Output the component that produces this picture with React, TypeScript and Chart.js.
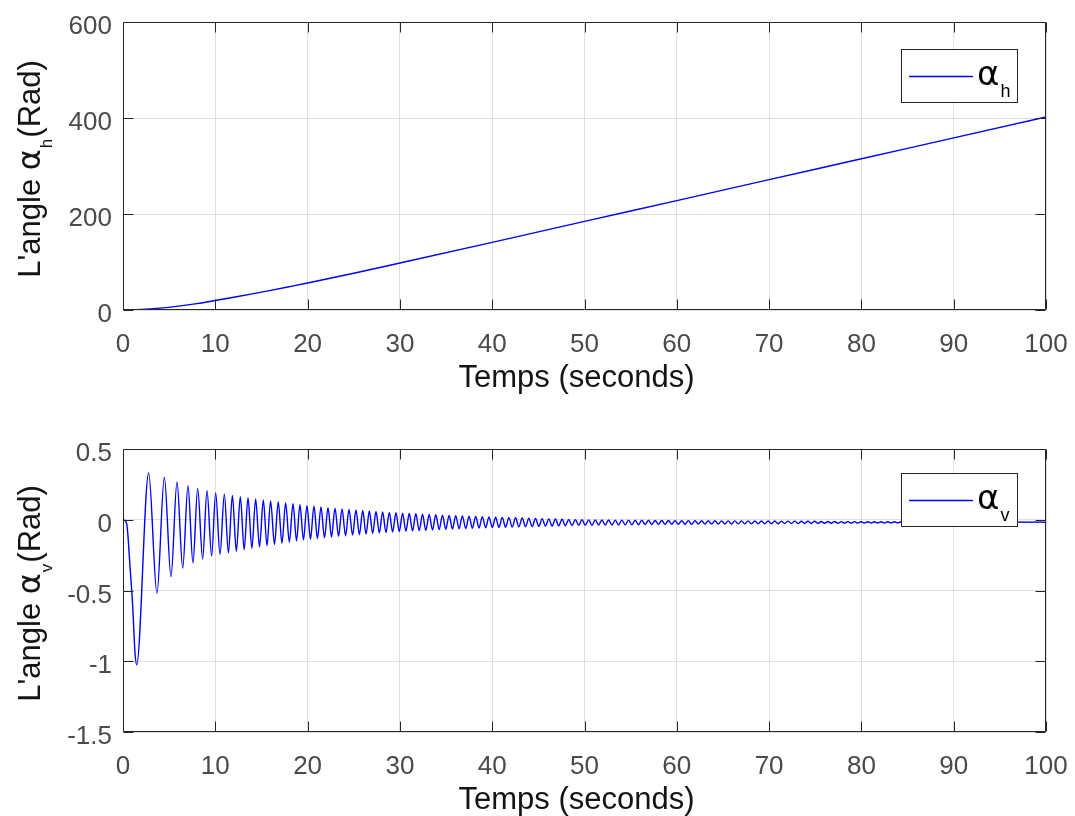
import React, { useEffect, useRef } from "react";
import { Chart, registerables } from "chart.js";

Chart.register(...registerables);

// ---------------- data ----------------
const X_TICKS = [0, 10, 20, 30, 40, 50, 60, 70, 80, 90, 100];
const Y_TICKS_TOP = [0, 200, 400, 600];
const Y_TICKS_BOTTOM = [-1.5, -1, -0.5, 0, 0.5];
const X_TITLE = "Temps (seconds)";
const Y_TITLE_START = "L'angle ";
const GREEK = "\u03b1";
const Y_TITLE_END = "(Rad)";
const SUB_TOP = "h";
const SUB_BOTTOM = "v";

// alpha_h (top)
const H_TIME = [0, 2, 4, 6, 8, 10, 12, 14, 16, 18, 20, 25, 30, 40, 50, 60, 70, 80, 90, 100];
const H_ANGLE = [0, 1.0, 3.8, 8.0, 13.3, 19.8, 26.6, 33.7, 41.0, 48.5, 56.2, 76.5, 97.8, 141, 184.5, 228, 271.5, 315, 358.5, 402];

// alpha_v (bottom): start, peaks, troughs, end
const V_START_T = [0, 0.2, 0.45, 0.76, 1.05, 1.3];
const V_START_V = [0, -0.005, -0.05, -0.33, -0.61, -0.94];

const V_PEAK_T = [
  2.78, 4.48, 5.85, 7.04, 8.09, 9.10, 10.04,
  10.98, 11.85, 12.71, 13.54, 14.37, 15.20, 15.99, 16.82, 17.62, 18.42, 19.17, 19.93,
  20.69, 21.45, 22.21, 22.97, 23.73, 24.49, 25.24, 25.97, 26.69, 27.41, 28.13, 28.85, 29.57,
  30.29, 31.01, 31.73, 32.45, 33.17, 33.89, 34.61, 35.33, 36.05, 36.77, 37.49, 38.21, 38.93, 39.65,
  40.37, 41.09, 41.81, 42.53, 43.25, 43.97, 44.69, 45.41, 46.13, 46.85, 47.57, 48.29, 49.01, 49.73,
  50.45, 51.17, 51.89, 52.61, 53.33, 54.05, 54.77, 55.49, 56.21, 56.93, 57.65, 58.37, 59.09, 59.81,
  60.53, 61.25, 61.97, 62.69, 63.41, 64.13, 64.85, 65.57, 66.29, 67.01, 67.73, 68.45, 69.17, 69.89,
  70.61, 71.33, 72.05, 72.77, 73.49, 74.21, 74.93, 75.65, 76.37, 77.09, 77.81, 78.53, 79.25, 79.97,
  80.69, 81.41, 82.13, 82.85, 83.57, 84.29, 85.01, 85.73, 86.45, 87.17, 87.89, 88.61, 89.33, 90.05,
  90.77, 91.49, 92.21, 92.93, 93.65, 94.37, 95.09, 95.81, 96.53, 97.25, 97.97, 98.69, 99.41,
];
const V_PEAK_V = [
  0.33, 0.30, 0.268, 0.24, 0.222, 0.206, 0.19,
  0.181, 0.172, 0.163, 0.155, 0.147, 0.140, 0.133, 0.126, 0.119, 0.113, 0.106, 0.100,
  0.095, 0.090, 0.085, 0.081, 0.077, 0.073, 0.069, 0.065, 0.062, 0.058, 0.055, 0.052, 0.049,
  0.046, 0.044, 0.042, 0.039, 0.037, 0.035, 0.033, 0.031, 0.029, 0.027, 0.025, 0.023, 0.022, 0.020,
  0.018, 0.017, 0.015, 0.014, 0.012, 0.011, 0.009, 0.008, 0.006, 0.005, 0.004, 0.002, 0.001, 0.000,
  -0.001, -0.001, -0.002, -0.002, -0.003, -0.003, -0.003, -0.004, -0.004, -0.004, -0.005, -0.005, -0.005, -0.006,
  -0.006, -0.006, -0.007, -0.007, -0.007, -0.007, -0.008, -0.008, -0.008, -0.008, -0.008, -0.009, -0.009, -0.009,
  -0.009, -0.010, -0.010, -0.010, -0.011, -0.011, -0.011, -0.012, -0.012, -0.012, -0.013, -0.013, -0.013, -0.014,
  -0.014, -0.014, -0.014, -0.014, -0.014, -0.014, -0.015, -0.015, -0.015, -0.015, -0.015, -0.015, -0.015, -0.015,
  -0.015, -0.015, -0.015, -0.015, -0.015, -0.015, -0.016, -0.016, -0.016, -0.016, -0.016, -0.016, -0.016,
];
const V_TROUGH_T = [
  1.48, 3.68, 5.20, 6.47, 7.58, 8.63, 9.60,
  10.51, 11.42, 12.28, 13.13, 13.96, 14.79, 15.60, 16.41, 17.22, 18.02, 18.80, 19.55,
  20.31, 21.07, 21.83, 22.59, 23.35, 24.11, 24.87, 25.61, 26.33, 27.05, 27.77, 28.49, 29.21, 29.93,
  30.65, 31.37, 32.09, 32.81, 33.53, 34.25, 34.97, 35.69, 36.41, 37.13, 37.85, 38.57, 39.29, 40.01,
  40.73, 41.45, 42.17, 42.89, 43.61, 44.33, 45.05, 45.77, 46.49, 47.21, 47.93, 48.65, 49.37, 50.09,
  50.81, 51.53, 52.25, 52.97, 53.69, 54.41, 55.13, 55.85, 56.57, 57.29, 58.01, 58.73, 59.45, 60.17,
  60.89, 61.61, 62.33, 63.05, 63.77, 64.49, 65.21, 65.93, 66.65, 67.37, 68.09, 68.81, 69.53, 70.25,
  70.97, 71.69, 72.41, 73.13, 73.85, 74.57, 75.29, 76.01, 76.73, 77.45, 78.17, 78.89, 79.61, 80.33,
  81.05, 81.77, 82.49, 83.21, 83.93, 84.65, 85.37, 86.09, 86.81, 87.53, 88.25, 88.97, 89.69, 90.41,
  91.13, 91.85, 92.57, 93.29, 94.01, 94.73, 95.45, 96.17, 96.89, 97.61, 98.33, 99.05, 99.77,
];
const V_TROUGH_V = [
  -1.025, -0.52, -0.402, -0.342, -0.305, -0.278, -0.256,
  -0.245, -0.234, -0.223, -0.212, -0.202, -0.192, -0.183, -0.174, -0.165, -0.157, -0.149, -0.142,
  -0.137, -0.132, -0.127, -0.122, -0.117, -0.113, -0.109, -0.105, -0.101, -0.097, -0.093, -0.090, -0.087, -0.083,
  -0.081, -0.079, -0.077, -0.075, -0.072, -0.070, -0.068, -0.066, -0.064, -0.062, -0.060, -0.058, -0.057, -0.055,
  -0.054, -0.053, -0.051, -0.050, -0.049, -0.048, -0.047, -0.045, -0.044, -0.043, -0.042, -0.041, -0.040, -0.039,
  -0.039, -0.038, -0.038, -0.037, -0.037, -0.036, -0.035, -0.035, -0.034, -0.034, -0.033, -0.033, -0.032, -0.032,
  -0.032, -0.032, -0.031, -0.031, -0.031, -0.030, -0.030, -0.030, -0.029, -0.029, -0.029, -0.029, -0.028, -0.028,
  -0.028, -0.027, -0.027, -0.027, -0.026, -0.026, -0.026, -0.025, -0.025, -0.025, -0.024, -0.024, -0.024, -0.023,
  -0.023, -0.023, -0.023, -0.022, -0.022, -0.022, -0.022, -0.021, -0.021, -0.021, -0.021, -0.020, -0.020, -0.020,
  -0.020, -0.020, -0.020, -0.019, -0.019, -0.019, -0.019, -0.019, -0.018, -0.018, -0.018, -0.018, -0.018,
];
const V_END_T = [100];
const V_END_V = [-0.017];

// ---------------- styles ----------------
const FONT = '"Liberation Sans", Arial, Helvetica, sans-serif';
const GREEK_FONT = '"DejaVu Sans", "Liberation Sans", sans-serif';
const AXIS_COLOR = "#262626";
const GRID_COLOR = "#dfdfdf";
const TICK_LABEL_COLOR = "#4a4a4a";
const TITLE_COLOR = "#141414";
const LINE_COLOR = "#0000ff";
const W = 1075;
const H = 408;
const PLOT_LEFT = 123;
const PLOT_RIGHT = 1046;
const TICK_LEN = 10;

type Pt = { x: number; y: number };

function zipPts(t: number[], v: number[]): Pt[] {
  return t.map((x, i) => ({ x, y: v[i] }));
}

function bottomPoints(): Pt[] {
  const pts = [
    ...zipPts(V_START_T, V_START_V),
    ...zipPts(V_PEAK_T, V_PEAK_V),
    ...zipPts(V_TROUGH_T, V_TROUGH_V),
    ...zipPts(V_END_T, V_END_V),
  ];
  pts.sort((a, b) => a.x - b.x);
  return pts;
}

function drawYLabel(ctx: CanvasRenderingContext2D, baseX: number, cy: number, sub: string) {
  const main = `31px ${FONT}`;
  const greek = `32px ${GREEK_FONT}`;
  const small = `17px ${FONT}`;
  ctx.save();
  ctx.fillStyle = TITLE_COLOR;
  ctx.textBaseline = "alphabetic";
  ctx.textAlign = "left";
  ctx.font = main;
  const w1 = ctx.measureText(Y_TITLE_START).width;
  const w4 = ctx.measureText(Y_TITLE_END).width;
  ctx.font = greek;
  const w2 = ctx.measureText(GREEK).width;
  ctx.font = small;
  const w3 = ctx.measureText(sub).width;
  const total = w1 + w2 + w3 + w4 + 2;
  ctx.translate(baseX, cy);
  ctx.rotate(-Math.PI / 2);
  let x = -total / 2;
  ctx.font = main;
  ctx.fillText(Y_TITLE_START, x, 0);
  x += w1;
  ctx.font = greek;
  ctx.fillText(GREEK, x, 0);
  x += w2;
  ctx.font = small;
  ctx.fillText(sub, x + 1, 12);
  x += w3 + 2;
  ctx.font = main;
  ctx.fillText(Y_TITLE_END, x, 0);
  ctx.restore();
}

function drawLegend(ctx: CanvasRenderingContext2D, left: number, top: number, sub: string) {
  const bw = 116;
  const bh = 53;
  ctx.save();
  ctx.fillStyle = "#ffffff";
  ctx.fillRect(left, top, bw, bh);
  ctx.strokeStyle = AXIS_COLOR;
  ctx.lineWidth = 1;
  ctx.strokeRect(left + 0.5, top + 0.5, bw, bh);
  const cy = Math.round(top + bh / 2) + 0.5;
  ctx.strokeStyle = LINE_COLOR;
  ctx.lineWidth = 1.4;
  ctx.beginPath();
  ctx.moveTo(left + 8, cy);
  ctx.lineTo(left + 72, cy);
  ctx.stroke();
  ctx.fillStyle = "#000000";
  ctx.textBaseline = "alphabetic";
  ctx.textAlign = "left";
  ctx.font = `34px ${GREEK_FONT}`;
  ctx.fillText(GREEK, left + 76, cy + 8);
  const aw = ctx.measureText(GREEK).width;
  ctx.font = `18px ${FONT}`;
  ctx.fillText(sub, left + 76 + aw + 1, cy + 20);
  ctx.restore();
}

function makeConfig(opts: {
  points: Pt[];
  yMin: number;
  yMax: number;
  yTicks: number[];
  padTop: number;
  plotBottom: number;
  sub: string;
  legendOffset: number;
  labelShift: number;
}): any {
  const framePlugin = {
    id: "frame",
    afterDraw(chart: any) {
      const ctx: CanvasRenderingContext2D = chart.ctx;
      const a = chart.chartArea;
      const xs = chart.scales.x;
      const ys = chart.scales.y;
      ctx.save();
      ctx.strokeStyle = AXIS_COLOR;
      ctx.lineWidth = 1;
      const L = Math.round(a.left) + 0.5;
      const R = Math.round(a.right) - 0.5;
      const T = Math.round(a.top) + 0.5;
      const B = Math.round(a.bottom) - 0.5;
      ctx.beginPath();
      ctx.rect(L, T, R - L, B - T);
      for (const v of X_TICKS) {
        const x = Math.round(xs.getPixelForValue(v)) + 0.5;
        ctx.moveTo(x, B);
        ctx.lineTo(x, B - TICK_LEN);
        ctx.moveTo(x, T);
        ctx.lineTo(x, T + TICK_LEN);
      }
      for (const v of opts.yTicks) {
        const y = Math.round(ys.getPixelForValue(v)) + 0.5;
        ctx.moveTo(L, y);
        ctx.lineTo(L + TICK_LEN, y);
        ctx.moveTo(R, y);
        ctx.lineTo(R - TICK_LEN, y);
      }
      ctx.stroke();

      // tick labels
      ctx.fillStyle = TICK_LABEL_COLOR;
      ctx.font = `26px ${FONT}`;
      ctx.textBaseline = "alphabetic";
      ctx.textAlign = "center";
      for (const v of X_TICKS) {
        ctx.fillText(String(v), xs.getPixelForValue(v), a.bottom + 42);
      }
      ctx.textAlign = "right";
      for (const v of opts.yTicks) {
        ctx.fillText(String(v), a.left - 11, ys.getPixelForValue(v) + 12);
      }
      ctx.restore();

      // x title
      ctx.save();
      ctx.fillStyle = TITLE_COLOR;
      ctx.font = `31px ${FONT}`;
      ctx.textAlign = "center";
      ctx.textBaseline = "alphabetic";
      ctx.fillText(X_TITLE, (a.left + a.right) / 2 - 8, a.bottom + 77);
      ctx.restore();

      // y title
      drawYLabel(ctx, 40, (a.top + a.bottom) / 2 + opts.labelShift, opts.sub);

      // legend
      drawLegend(ctx, a.right - 145, a.top + opts.legendOffset, opts.sub);
    },
  };

  return {
    type: "line",
    data: {
      datasets: [
        {
          data: opts.points,
          borderColor: LINE_COLOR,
          borderWidth: 1.4,
          pointRadius: 0,
          fill: false,
          cubicInterpolationMode: "monotone",
        },
      ],
    },
    options: {
      responsive: false,
      animation: false,
      devicePixelRatio: 1,
      layout: { padding: { left: 0, right: W - PLOT_RIGHT, top: opts.padTop, bottom: 0 } },
      plugins: { legend: { display: false }, tooltip: { enabled: false }, title: { display: false } },
      scales: {
        x: {
          type: "linear",
          min: 0,
          max: 100,
          afterBuildTicks: (s: any) => {
            s.ticks = X_TICKS.map((v) => ({ value: v }));
          },
          afterFit: (s: any) => {
            s.height = H - opts.plotBottom;
            s.paddingLeft = 0;
            s.paddingRight = 0;
          },
          ticks: { display: false },
          grid: { color: GRID_COLOR, drawTicks: false, lineWidth: 1 },
          border: { display: false },
        },
        y: {
          type: "linear",
          min: opts.yMin,
          max: opts.yMax,
          afterBuildTicks: (s: any) => {
            s.ticks = opts.yTicks.map((v) => ({ value: v }));
          },
          afterFit: (s: any) => {
            s.width = PLOT_LEFT;
            s.paddingTop = 0;
            s.paddingBottom = 0;
          },
          ticks: { display: false },
          grid: { color: GRID_COLOR, drawTicks: false, lineWidth: 1 },
          border: { display: false },
        },
      },
    },
    plugins: [framePlugin],
  };
}

export default function App() {
  const topRef = useRef<HTMLCanvasElement>(null);
  const botRef = useRef<HTMLCanvasElement>(null);

  useEffect(() => {
    const c1 = new Chart(
      topRef.current as HTMLCanvasElement,
      makeConfig({
        points: zipPts(H_TIME, H_ANGLE),
        yMin: 0,
        yMax: 600,
        yTicks: Y_TICKS_TOP,
        padTop: 22,
        plotBottom: 310,
        sub: SUB_TOP,
        legendOffset: 27,
        labelShift: 3,
      })
    );
    const c2 = new Chart(
      botRef.current as HTMLCanvasElement,
      makeConfig({
        points: bottomPoints(),
        yMin: -1.5,
        yMax: 0.5,
        yTicks: Y_TICKS_BOTTOM,
        padTop: 41,
        plotBottom: 324,
        sub: SUB_BOTTOM,
        legendOffset: 24,
        labelShift: 3,
      })
    );
    return () => {
      c1.destroy();
      c2.destroy();
    };
  }, []);

  return (
    <div style={{ position: "absolute", left: 0, top: 0, width: W, height: 2 * H, background: "#ffffff" }}>
      <canvas ref={topRef} width={W} height={H} style={{ display: "block", width: W, height: H }} />
      <canvas ref={botRef} width={W} height={H} style={{ display: "block", width: W, height: H }} />
    </div>
  );
}
